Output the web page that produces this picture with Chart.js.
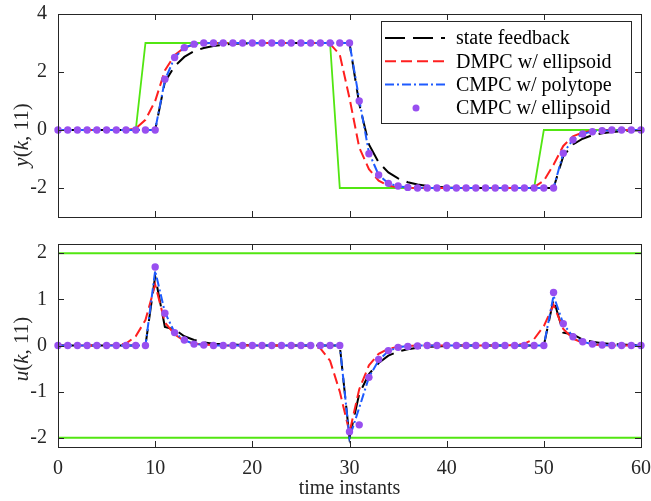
<!DOCTYPE html>
<html>
<head>
<meta charset="utf-8">
<title>y(k,11) and u(k,11)</title>
<script src="https://cdn.jsdelivr.net/npm/chart.js@4.4.1/dist/chart.umd.min.js"></script>
<style>
  html, body { margin: 0; padding: 0; background: #fff; }
  #wrap { position: relative; width: 651px; height: 501px; }
  #wrap canvas { position: absolute; left: 0; }
  #topChart { top: 0; }
  #botChart { top: 230px; }
</style>
</head>
<body>
<div id="wrap">
  <canvas id="topChart" width="651" height="230"></canvas>
  <canvas id="botChart" width="651" height="271"></canvas>
</div>
<script>
// time instants
const k = [0, 1, 2, 3, 4, 5, 6, 7, 8, 9, 10, 11, 12, 13, 14, 15, 16, 17, 18, 19, 20,
  21, 22, 23, 24, 25, 26, 27, 28, 29, 30, 31, 32, 33, 34, 35, 36, 37, 38, 39, 40,
  41, 42, 43, 44, 45, 46, 47, 48, 49, 50, 51, 52, 53, 54, 55, 56, 57, 58, 59, 60];

// tick labels
const xTicks = [0, 10, 20, 30, 40, 50, 60];
const yTicksTop = [-2, 0, 2, 4];
const yTicksBot = [-2, -1, 0, 1, 2];

// legend names
const names = ["state feedback", "DMPC w/ ellipsoid", "CMPC w/ polytope", "CMPC w/ ellipsoid"];

// output y(k,11): reference (green)
const yRef = [0, 0, 0, 0, 0, 0, 0, 0, 0, 3, 3, 3, 3, 3, 3, 3, 3, 3, 3, 3, 3,
  3, 3, 3, 3, 3, 3, 3, 3, -2, -2, -2, -2, -2, -2, -2, -2, -2, -2, -2, -2,
  -2, -2, -2, -2, -2, -2, -2, -2, -2, 0, 0, 0, 0, 0, 0, 0, 0, 0, 0, 0];
// state feedback
const yState = [0, 0, 0, 0, 0, 0, 0, 0, 0, 0, 0, 1.66, 2.2, 2.52, 2.72, 2.83, 2.9, 2.94, 2.97, 2.98, 2.99,
  3, 3, 3, 3, 3, 3, 3, 3, 3, 3, 0.9, -0.5, -1.12, -1.46, -1.67, -1.8, -1.88, -1.93, -1.96, -1.98,
  -1.99, -2, -2, -2, -2, -2, -2, -2, -2, -2, -2, -0.9, -0.5, -0.3, -0.18, -0.11, -0.07, -0.04, -0.02, -0.01];
// DMPC w/ ellipsoid
const yDmpc = [0, 0, 0, 0, 0, 0, 0, 0, 0.05, 0.35, 1.0, 2.05, 2.58, 2.84, 2.95, 2.99, 3, 3, 3, 3, 3,
  3, 3, 3, 3, 3, 3, 3, 2.97, 2.6, 1.1, -0.6, -1.35, -1.75, -1.92, -1.97, -1.99, -2, -2, -2, -2,
  -2, -2, -2, -2, -2, -2, -2, -2, -1.97, -1.75, -1.2, -0.55, -0.22, -0.08, -0.03, -0.01, 0, 0, 0, 0];
// CMPC w/ polytope
const yPoly = [0, 0, 0, 0, 0, 0, 0, 0, 0, 0, 0, 1.72, 2.5, 2.84, 2.96, 2.99, 3, 3, 3, 3, 3,
  3, 3, 3, 3, 3, 3, 3, 3, 3, 3, 1.05, -0.78, -1.55, -1.84, -1.94, -1.98, -1.99, -2, -2, -2,
  -2, -2, -2, -2, -2, -2, -2, -2, -2, -2, -2, -0.8, -0.33, -0.13, -0.05, -0.02, -0.01, 0, 0, 0];
// CMPC w/ ellipsoid
const yEll = [0, 0, 0, 0, 0, 0, 0, 0, 0, 0, 0, 1.75, 2.5, 2.84, 2.96, 3, 3, 3, 3, 3, 3,
  3, 3, 3, 3, 3, 3, 3, 3, 3, 3, 1.0, -0.82, -1.55, -1.84, -1.93, -1.98, -2, -2, -2, -2,
  -2, -2, -2, -2, -2, -2, -2, -2, -2, -2, -2, -0.8, -0.34, -0.14, -0.06, -0.02, 0, 0, 0, 0];

// input u(k,11): limits (green)
const uMax = 2;
const uMin = -2;
const uState = [0, 0, 0, 0, 0, 0, 0, 0, 0, 0, 1.5, 0.4, 0.35, 0.2, 0.12, 0.07, 0.04, 0.03, 0.02, 0.01, 0,
  0, 0, 0, 0, 0, 0, 0, 0, 0, -2.0, -1.05, -0.62, -0.38, -0.22, -0.13, -0.08, -0.05, -0.03, -0.02, -0.01,
  0, 0, 0, 0, 0, 0, 0, 0, 0, 0, 1.0, 0.28, 0.24, 0.13, 0.08, 0.05, 0.03, 0.02, 0.01, 0];
const uDmpc = [0, 0, 0, 0, 0, 0, 0.01, 0.04, 0.2, 0.55, 1.32, 0.5, 0.24, 0.1, 0.04, 0.02, 0.01, 0, 0, 0, 0,
  0, 0, 0, 0, 0, -0.01, -0.06, -0.33, -1.0, -1.88, -0.95, -0.43, -0.18, -0.07, -0.03, -0.01, 0, 0, 0, 0,
  0, 0, 0, 0, 0, 0, 0.01, 0.04, 0.14, 0.42, 0.88, 0.36, 0.15, 0.06, 0.02, 0.01, 0, 0, 0, 0];
const uPoly = [0, 0, 0, 0, 0, 0, 0, 0, 0, 0, 1.62, 0.72, 0.28, 0.11, 0.04, 0.01, 0, 0, 0, 0, 0,
  0, 0, 0, 0, 0, 0, 0, 0, 0, -2.0, -1.35, -0.69, -0.32, -0.12, -0.04, -0.01, 0, 0, 0, 0,
  0, 0, 0, 0, 0, 0, 0, 0, 0, 0, 1.08, 0.47, 0.19, 0.08, 0.03, 0.01, 0, 0, 0, 0];
const uEll = [0, 0, 0, 0, 0, 0, 0, 0, 0, 0, 1.7, 0.7, 0.28, 0.12, 0.03, 0.01, 0, 0, 0, 0, 0,
  0, 0, 0, 0, 0, 0, 0, 0, 0, -1.87, -1.72, -0.69, -0.3, -0.11, -0.04, -0.02, -0.01, 0, 0, 0,
  0, 0, 0, 0, 0, 0, 0, 0, 0, 0, 1.15, 0.47, 0.19, 0.08, 0.03, 0.01, 0, 0, 0, 0];

const AXIS = "#262626";
const FONT = "'Liberation Serif', 'Times New Roman', serif";
const COL = { ref: "#52e612", state: "#000000", dmpc: "#ff1f1f", poly: "#1e5bff", ell: "#984ff0" };

Chart.defaults.font.family = FONT;
Chart.defaults.color = AXIS;

function pts(arr) {
  return k.map(function (x, i) { return { x: x, y: arr[i] }; });
}

function lineSet(label, arr, color, dash, order, width) {
  return {
    label: label, data: pts(arr), borderColor: color, borderWidth: width || 2,
    borderDash: dash, pointRadius: 0, tension: 0, fill: false, order: order, clip: false
  };
}

function dotSet(label, arr, color, order) {
  return {
    label: label, data: pts(arr), showLine: false, pointRadius: 3.7, pointBorderWidth: 0,
    pointBackgroundColor: color, borderColor: color, backgroundColor: color, order: order, clip: false
  };
}

// dash patterns
const DASH = { state: [20, 8], dmpc: [11, 5], poly: [9, 3, 2, 3] };

function makeScales(yMin, yMax, yTicks, bottom) {
  return {
    x: {
      type: "linear", min: 0, max: 60,
      afterBuildTicks: function (s) { s.ticks = xTicks.map(function (v) { return { value: v }; }); },
      ticks: { display: bottom, font: { size: 20 }, padding: 10, maxRotation: 0, autoSkip: false },
      grid: { display: false, drawTicks: false },
      border: { display: false },
      title: { display: bottom, text: "time instants", font: { size: 20 }, padding: { top: 0, bottom: 0 } },
      afterFit: function (s) {
        s.height = bottom ? 54 : 13;
        s.paddingLeft = 0; s.paddingRight = 0;
      }
    },
    y: {
      min: yMin, max: yMax,
      afterBuildTicks: function (s) { s.ticks = yTicks.map(function (v) { return { value: v }; }); },
      ticks: { font: { size: 20 }, padding: 11 },
      grid: { display: false, drawTicks: false },
      border: { display: false },
      afterFit: function (s) {
        s.width = 58;
        s.paddingTop = 0; s.paddingBottom = 0;
      }
    }
  };
}

// box round the plot area with inward ticks
const axesBox = {
  id: "axesBox",
  afterDraw: function (chart) {
    const ctx = chart.ctx, a = chart.chartArea, sx = chart.scales.x, sy = chart.scales.y;
    ctx.save();
    ctx.strokeStyle = AXIS;
    ctx.lineWidth = 1;
    ctx.beginPath();
    sx.ticks.forEach(function (t) {
      const px = Math.round(sx.getPixelForValue(t.value)) + 0.5;
      ctx.moveTo(px, a.bottom); ctx.lineTo(px, a.bottom - 6);
      ctx.moveTo(px, a.top); ctx.lineTo(px, a.top + 6);
    });
    sy.ticks.forEach(function (t) {
      const py = Math.round(sy.getPixelForValue(t.value)) + 0.5;
      ctx.moveTo(a.left, py); ctx.lineTo(a.left + 6, py);
      ctx.moveTo(a.right, py); ctx.lineTo(a.right - 6, py);
    });
    ctx.stroke();
    ctx.strokeRect(Math.round(a.left) + 0.5, Math.round(a.top) + 0.5,
      Math.round(a.right - a.left), Math.round(a.bottom - a.top));
    ctx.restore();
  }
};

// rotated y label with italic variables
const yLabel = {
  id: "yLabel",
  afterDraw: function (chart, args, opts) {
    const ctx = chart.ctx;
    ctx.save();
    ctx.translate(opts.x, opts.y);
    ctx.rotate(-Math.PI / 2);
    ctx.fillStyle = AXIS;
    ctx.textBaseline = "middle";
    let total = 0;
    opts.parts.forEach(function (p) {
      ctx.font = (p[1] ? "italic " : "") + "21px " + FONT;
      total += ctx.measureText(p[0]).width;
    });
    let x = -total / 2;
    opts.parts.forEach(function (p) {
      ctx.font = (p[1] ? "italic " : "") + "21px " + FONT;
      ctx.fillText(p[0], x, 0);
      x += ctx.measureText(p[0]).width;
    });
    ctx.restore();
  }
};

// legend box inside the top plot
const boxLegend = {
  id: "boxLegend",
  afterDraw: function (chart, args, opts) {
    const ctx = chart.ctx;
    const items = chart.data.datasets.filter(function (d) { return d.inLegend; });
    ctx.save();
    ctx.fillStyle = "#fff";
    ctx.fillRect(opts.left, opts.top, opts.width, opts.height);
    ctx.strokeStyle = AXIS;
    ctx.lineWidth = 1;
    ctx.strokeRect(opts.left + 0.5, opts.top + 0.5, opts.width, opts.height);
    ctx.font = "20px " + FONT;
    ctx.textBaseline = "middle";
    items.forEach(function (d, i) {
      const y = opts.top + opts.firstRow + i * opts.rowGap;
      if (d.showLine === false) {
        ctx.fillStyle = d.pointBackgroundColor;
        ctx.beginPath();
        ctx.arc(opts.left + 35, y, 3.5, 0, Math.PI * 2);
        ctx.fill();
      } else {
        ctx.strokeStyle = d.borderColor;
        ctx.lineWidth = d.borderWidth;
        ctx.setLineDash(d.borderDash || []);
        ctx.beginPath();
        ctx.moveTo(opts.left + 4, y);
        ctx.lineTo(opts.left + 64, y);
        ctx.stroke();
        ctx.setLineDash([]);
      }
      ctx.fillStyle = "#000";
      ctx.fillText(d.label, opts.left + 75, y + 1);
    });
    ctx.restore();
  }
};

const topSets = [
  lineSet("reference", yRef, COL.ref, [], 5, 1.8),
  lineSet(names[0], yState, COL.state, DASH.state, 4),
  lineSet(names[1], yDmpc, COL.dmpc, DASH.dmpc, 3),
  lineSet(names[2], yPoly, COL.poly, DASH.poly, 2),
  dotSet(names[3], yEll, COL.ell, 1)
];
topSets.forEach(function (d, i) { d.inLegend = i > 0; });

new Chart(document.getElementById("topChart"), {
  type: "line",
  data: { datasets: topSets },
  options: {
    responsive: false, animation: false, devicePixelRatio: 1,
    layout: { padding: { top: 14, right: 10, bottom: 0, left: 0 } },
    scales: makeScales(-3, 4, yTicksTop, false),
    plugins: {
      legend: { display: false }, tooltip: { enabled: false },
      yLabel: { x: 22, y: 135, parts: [["y", true], ["(", false], ["k", true], [", 11)", false]] },
      boxLegend: { left: 381, top: 21, width: 250, height: 102, firstRow: 17, rowGap: 23.3 }
    }
  },
  plugins: [axesBox, yLabel, boxLegend]
});

const botSets = [
  lineSet("upper limit", k.map(function () { return uMax; }), COL.ref, [], 6, 2),
  lineSet("lower limit", k.map(function () { return uMin; }), COL.ref, [], 5, 2),
  lineSet(names[0], uState, COL.state, DASH.state, 4),
  lineSet(names[1], uDmpc, COL.dmpc, DASH.dmpc, 3),
  lineSet(names[2], uPoly, COL.poly, DASH.poly, 2),
  dotSet(names[3], uEll, COL.ell, 1)
];

new Chart(document.getElementById("botChart"), {
  type: "line",
  data: { datasets: botSets },
  options: {
    responsive: false, animation: false, devicePixelRatio: 1,
    layout: { padding: { top: 14, right: 10, bottom: 0, left: 0 } },
    scales: makeScales(-2.2, 2.2, yTicksBot, true),
    plugins: {
      legend: { display: false }, tooltip: { enabled: false },
      yLabel: { x: 22, y: 119, parts: [["u", true], ["(", false], ["k", true], [", 11)", false]] }
    }
  },
  plugins: [axesBox, yLabel]
});
</script>
</body>
</html>
